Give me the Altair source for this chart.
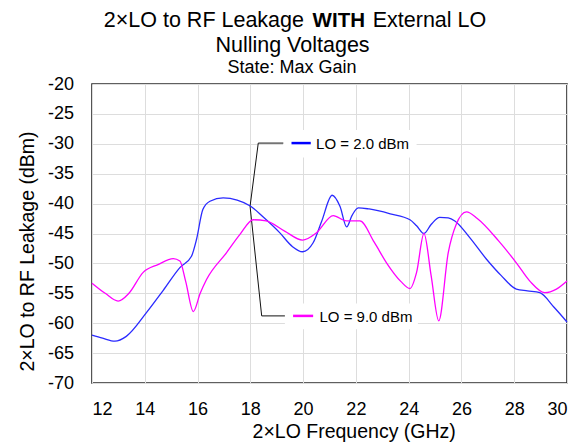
import altair as alt
import pandas as pd

FONT = "Liberation Sans"

# ---- data ----
series_names = ["LO = 2.0 dBm", "LO = 9.0 dBm"]
series_colors = ["#2a2aff", "#ff00ff"]
swatch_colors = ["#0000ff", "#ff00ff"]

freq_lo2 = [12.0, 12.4, 12.87, 13.3, 14.07, 14.7, 15.33, 15.77, 15.96, 16.2, 16.47,
            16.97, 17.5, 18.0, 18.5, 19.12, 19.6, 19.98, 20.38, 20.7, 21.1, 21.4,
            21.65, 21.85, 22.09, 22.5, 23.3, 24.05, 24.3, 24.58, 24.85, 25.18, 25.5,
            25.75, 26.3, 26.95, 27.5, 28.08, 28.5, 28.97, 29.5, 30.0]
leak_lo2 = [-62.0, -62.5, -63.0, -62.2, -58.2, -54.5, -50.7, -48.8, -46.0, -41.0, -39.6,
            -39.05, -39.4, -40.4, -42.3, -44.9, -47.2, -48.05, -46.55, -43.0, -38.6, -40.5,
            -43.9, -42.0, -40.7, -40.9, -41.7, -42.7, -43.7, -45.0, -43.5, -42.3, -42.4,
            -42.9, -45.6, -49.3, -52.0, -54.3, -54.6, -54.9, -57.3, -59.8]

freq_lo9 = [12.0, 12.5, 12.99, 13.4, 13.94, 14.5, 15.08, 15.33, 15.55, 15.84, 16.1,
            16.34, 17.1, 17.6, 18.11, 18.6, 19.3, 19.98, 20.5, 21.14, 21.64, 22.15,
            22.7, 23.16, 23.7, 24.05, 24.3, 24.58, 24.85, 25.14, 25.5, 25.8, 26.19,
            26.6, 27.4, 28.08, 28.6, 29.16, 29.6, 30.0]
leak_lo9 = [-53.3, -55.0, -56.3, -55.0, -51.5, -50.2, -49.2, -49.6, -53.0, -58.05, -55.0,
            -52.7, -48.2, -45.2, -42.7, -42.9, -44.6, -46.1, -44.9, -42.0, -42.9, -42.9,
            -46.5, -49.9, -53.0, -54.2, -51.5, -45.0, -52.0, -59.6, -48.2, -43.5, -41.4,
            -42.5, -46.2, -49.9, -53.0, -54.9, -54.3, -52.95]

x_ticks = list(range(12, 31, 2))
y_ticks = list(range(-70, -19, 5))

# callout annotation (data units)
callout_x = [19.25, 18.30, 17.99, 18.43, 19.31]
callout_y = [-29.88, -29.88, -40.45, -58.78, -58.78]
label_box_x = [19.24, 19.31]
label_box_x2 = [24.30, 24.35]
label_box_y = [-27.7, -56.7]
label_box_y2 = [-32.3, -61.0]
swatch_x = [19.56, 19.62]
swatch_x2 = [20.29, 20.38]
label_y = [-29.88, -58.78]
label_x = [20.49, 20.62]

title_left = "2×LO to RF Leakage"
title_bold = "WITH"
title_right = "External LO"
title_line2 = "Nulling Voltages"
subtitle = "State: Max Gain"
x_title = "2×LO Frequency (GHz)"
y_title = "2×LO to RF Leakage (dBm)"

# ---- tables ----
curves = pd.concat([
    pd.DataFrame({"freq": freq_lo2, "leak": leak_lo2, "series": series_names[0]}),
    pd.DataFrame({"freq": freq_lo9, "leak": leak_lo9, "series": series_names[1]}),
], ignore_index=True)

callout = pd.DataFrame({"x": callout_x, "y": callout_y, "o": list(range(len(callout_x)))})
legend_df = pd.DataFrame({
    "series": series_names,
    "bx": label_box_x, "bx2": label_box_x2, "by": label_box_y, "by2": label_box_y2,
    "sx": swatch_x, "sx2": swatch_x2, "ly": label_y, "lx": label_x,
})

x_scale = alt.Scale(domain=[12, 30], nice=False, zero=False)
y_scale = alt.Scale(domain=[-70, -20], nice=False, zero=False)

x_axis = alt.Axis(values=x_ticks, title=x_title, labelFontSize=18, labelPadding=17,
                  ticks=False, tickSize=0, domain=False, grid=True, labelOverlap=False,
                  titleFontSize=19.5, titleFontWeight="normal", titleX=261.7, titleY=54.5,
                  titleBaseline="alphabetic", titleAlign="center")
y_axis = alt.Axis(values=y_ticks, title=y_title, labelFontSize=18, labelPadding=18.5,
                  labelExpr="toString(datum.value)", labelOverlap=False,
                  ticks=False, tickSize=0, domain=False, grid=True,
                  titleFontSize=19.5, titleFontWeight="normal", titleX=-59, titleY=167,
                  titleAngle=-90, titleBaseline="alphabetic", titleAlign="center")


def X(field):
    return alt.X(field, scale=x_scale, axis=x_axis)


def Y(field):
    return alt.Y(field, scale=y_scale, axis=y_axis)


color_scale = alt.Scale(domain=series_names, range=series_colors)

lines = alt.Chart(curves).mark_line(interpolate="monotone", strokeWidth=1.3).encode(
    x=X("freq:Q"),
    y=Y("leak:Q"),
    color=alt.Color("series:N", scale=color_scale, legend=None),
)

boxes = alt.Chart(legend_df).mark_rect(color="white").encode(
    x=X("bx:Q"), x2="bx2:Q", y=Y("by:Q"), y2="by2:Q",
)

callout_line = alt.Chart(callout).mark_line(color="#111111", strokeWidth=1).encode(
    x=X("x:Q"), y=Y("y:Q"), order="o:Q",
)

swatches = alt.Chart(legend_df).mark_rule(strokeWidth=2.5).encode(
    x=X("sx:Q"), x2="sx2:Q", y=Y("ly:Q"),
    color=alt.Color("series:N", scale=alt.Scale(domain=series_names, range=swatch_colors), legend=None),
)

labels = alt.Chart(legend_df).mark_text(align="left", baseline="middle", fontSize=15,
                                        font=FONT, color="black", dy=1).encode(
    x=X("lx:Q"), y=Y("ly:Q"), text="series:N",
)


def title_text(txt, x, y, size, align, weight="normal"):
    return alt.Chart(pd.DataFrame({"t": [txt]})).mark_text(
        align=align, baseline="alphabetic", fontSize=size, font=FONT,
        fontWeight=weight, color="black").encode(
        x=alt.value(x), y=alt.value(y), text="t:N")


titles = (
    title_text(title_left, 212, -57.3, 21.5, "right")
    + title_text(title_bold, 246.8, -57.3, 20.5, "center", "bold")
    + title_text(title_right, 280.7, -57.3, 21.5, "left")
    + title_text(title_line2, 200.5, -32.3, 21.5, "center")
    + title_text(subtitle, 200, -10.7, 18, "center")
)

chart = alt.layer(boxes, callout_line, swatches, labels, lines, titles).resolve_scale(
    color="independent"
).properties(
    width=475, height=299,
    padding={"left": 84, "top": 76, "right": 12, "bottom": 60},
    autosize=alt.AutoSizeParams(type="none"),
).configure(
    font=FONT,
).configure_view(
    stroke="#2b2b2b", strokeWidth=1.6,
).configure_axis(
    gridColor="#dddddd", gridWidth=1, labelColor="black", titleColor="black",
    labelFont=FONT, titleFont=FONT,
)

chart.save("out.html", embed_options={"renderer": "svg", "actions": False})
